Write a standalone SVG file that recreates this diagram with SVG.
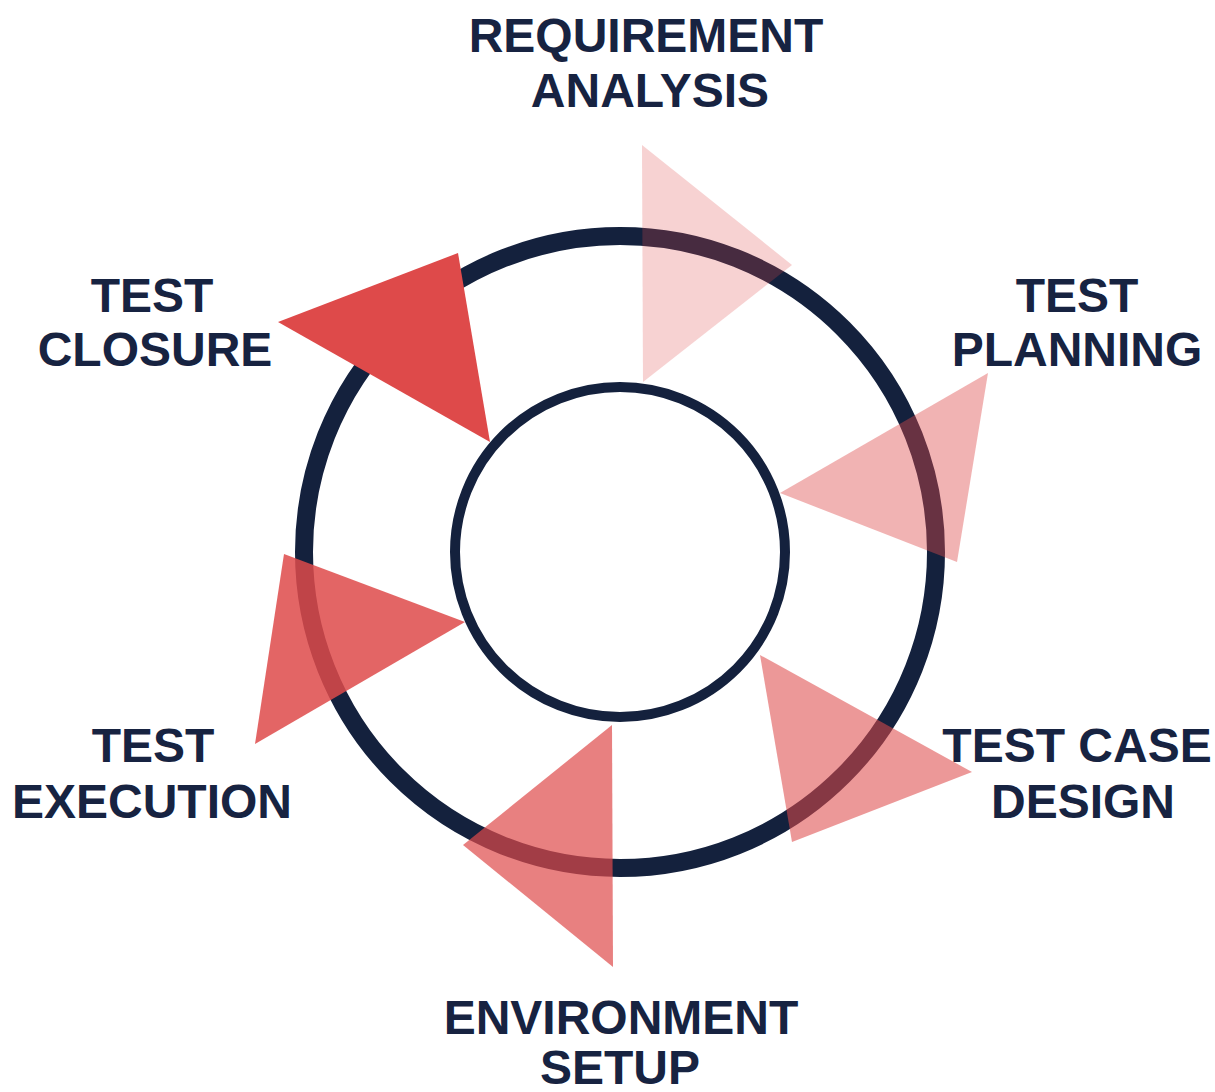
<svg xmlns="http://www.w3.org/2000/svg" width="1215" height="1092" viewBox="0 0 1215 1092">
  <style>
    .ring { fill: none; stroke: #14213d; }
    .outer { stroke-width: 18; }
    .inner { stroke-width: 10; }
    .arrow { fill: #de4a4a; }
    .label { font-family: "Liberation Sans", Arial, sans-serif; font-weight: 700; font-size: 48px; fill: #172341; text-anchor: middle; }
  </style>
  <rect width="1215" height="1092" fill="#ffffff"/>

  <!-- cycle rings -->
  <g id="connectors">
    <circle class="ring outer" cx="620" cy="552" r="316"/>
    <circle class="ring inner" cx="620" cy="552" r="165"/>
  </g>

  <!-- phases, clockwise from the top -->
  <g id="requirement-analysis">
    <polygon class="arrow" points="642,145 792,265 643,382" fill-opacity="0.25"/>
    <text class="label" x="646" y="52">REQUIREMENT</text>
    <text class="label" x="650" y="107">ANALYSIS</text>
  </g>

  <g id="test-planning">
    <polygon class="arrow" points="988,373 957,562 780,493" fill-opacity="0.42"/>
    <text class="label" x="1077" y="312">TEST</text>
    <text class="label" x="1077" y="366">PLANNING</text>
  </g>

  <g id="test-case-design">
    <polygon class="arrow" points="760,655 972,772 792,842" fill-opacity="0.57"/>
    <text class="label" x="1077" y="762">TEST CASE</text>
    <text class="label" x="1083" y="818">DESIGN</text>
  </g>

  <g id="environment-setup">
    <polygon class="arrow" points="612,725 613,967 463,845" fill-opacity="0.7"/>
    <text class="label" x="621" y="1034">ENVIRONMENT</text>
    <text class="label" x="620" y="1084">SETUP</text>
  </g>

  <g id="test-execution">
    <polygon class="arrow" points="284,554 465,622 255,744" fill-opacity="0.85"/>
    <text class="label" x="153" y="762">TEST</text>
    <text class="label" x="152" y="818">EXECUTION</text>
  </g>

  <g id="test-closure">
    <polygon class="arrow" points="278,322 458,253 490,442" fill-opacity="1"/>
    <text class="label" x="152" y="312">TEST</text>
    <text class="label" x="155" y="366">CLOSURE</text>
  </g>
</svg>
